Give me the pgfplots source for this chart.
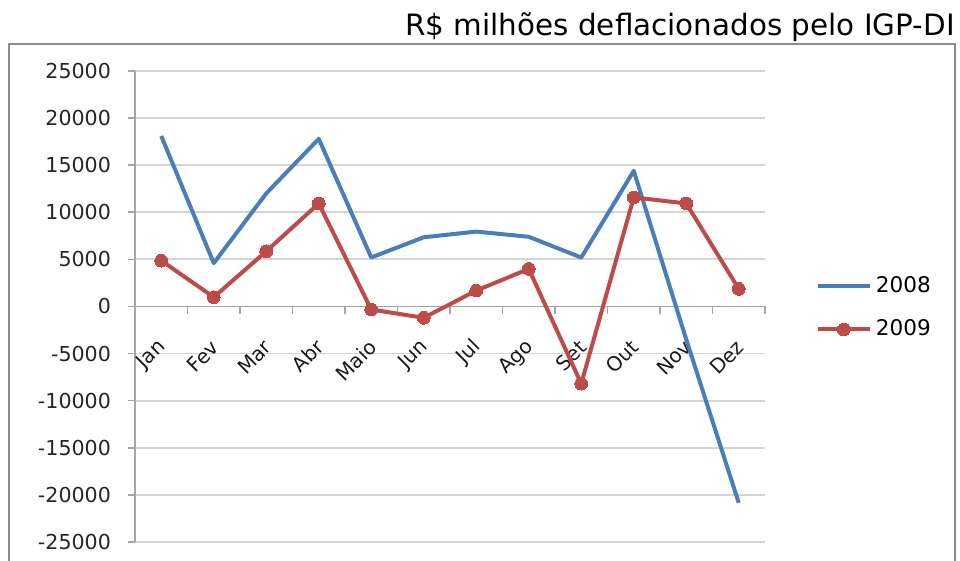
\documentclass[border=0pt]{standalone}
\usepackage{pgfplots}
\pgfplotsset{compat=1.18}
\usepackage{fontspec}
\setmainfont{DejaVu Sans}
\definecolor{s1}{HTML}{4A7EBB}
\definecolor{s2}{HTML}{BE4B48}
\definecolor{gridc}{HTML}{D4D4D4}
\definecolor{axc}{HTML}{A6A6A6}
\definecolor{framec}{HTML}{8C8C8C}
\begin{document}
\begin{tikzpicture}
\useasboundingbox (0pt,0pt) rectangle (480pt,280.5pt);
\draw[framec, line width=1.2pt] (4.5pt,-10pt) -- (4.5pt,258.5pt) -- (477.5pt,258.5pt) -- (477.5pt,-10pt);
\node[anchor=base east, inner sep=0pt, font=\fontsize{14.7}{17}\selectfont] at (477.5pt,262.5pt) {R\$ milhões deflacionados pelo IGP-DI};
\begin{axis}[
  at={(67.5pt,9.5pt)}, anchor=south west,
  scale only axis, width=315pt, height=235.5pt,
  xmin=-0.5, xmax=11.5, ymin=-25000, ymax=25000,
  axis x line*=middle, axis y line*=left,
  axis line style={axc, line width=0.8pt},
  tick align=outside,
  scaled y ticks=false,
  xtick={0,...,11},
  xticklabels={Jan,Fev,Mar,Abr,Maio,Jun,Jul,Ago,Set,Out,Nov,Dez},
  minor xtick={-0.5,0.5,...,11.5},
  major x tick style={draw=none},
  minor x tick style={axc, line width=0.8pt},
  minor tick length=4pt,
  major tick length=3.5pt,
  ytick={-25000,-20000,...,25000},
  yticklabels={-25000,-20000,-15000,-10000,-5000,0,5000,10000,15000,20000,25000},
  ytick style={axc, line width=0.8pt},
  ymajorgrids, grid style={gridc, line width=0.9pt},
  yticklabel style={font=\fontsize{10.3}{12}\selectfont, text=black!85, xshift=-5pt},
  xticklabel style={font=\fontsize{10}{12}\selectfont, text=black!90, xshift=3.2pt, yshift=-12.7pt, rotate=45, anchor=east},
  legend style={draw=none, fill=none, at={(1.08,0.497)}, anchor=west, font=\fontsize{10.8}{12}\selectfont, row sep=8pt, inner sep=0pt},
  legend cell align=left,
  legend image code/.code={\draw[mark repeat=2,mark phase=2,#1] plot coordinates {(0pt,0pt) (13pt,0pt) (26pt,0pt)};},
  clip=false,
]
\addplot[s1, line width=2pt, line join=round] coordinates {
(0,18100) (1,4600) (2,12000) (3,17800) (4,5200) (5,7350) (6,7950) (7,7400) (8,5200) (9,14400) (10,-3500) (11,-20850)};
\addlegendentry{2008}
\addplot[s2, line width=2pt, line join=round, mark=*, mark size=3.2pt, mark options={fill=s2, draw=s2, line width=0pt}] coordinates {
(0,4870) (1,990) (2,5860) (3,10940) (4,-320) (5,-1200) (6,1690) (7,3990) (8,-8190) (9,11580) (10,10940) (11,1870)};
\addlegendentry{2009}
\end{axis}
\end{tikzpicture}
\end{document}
